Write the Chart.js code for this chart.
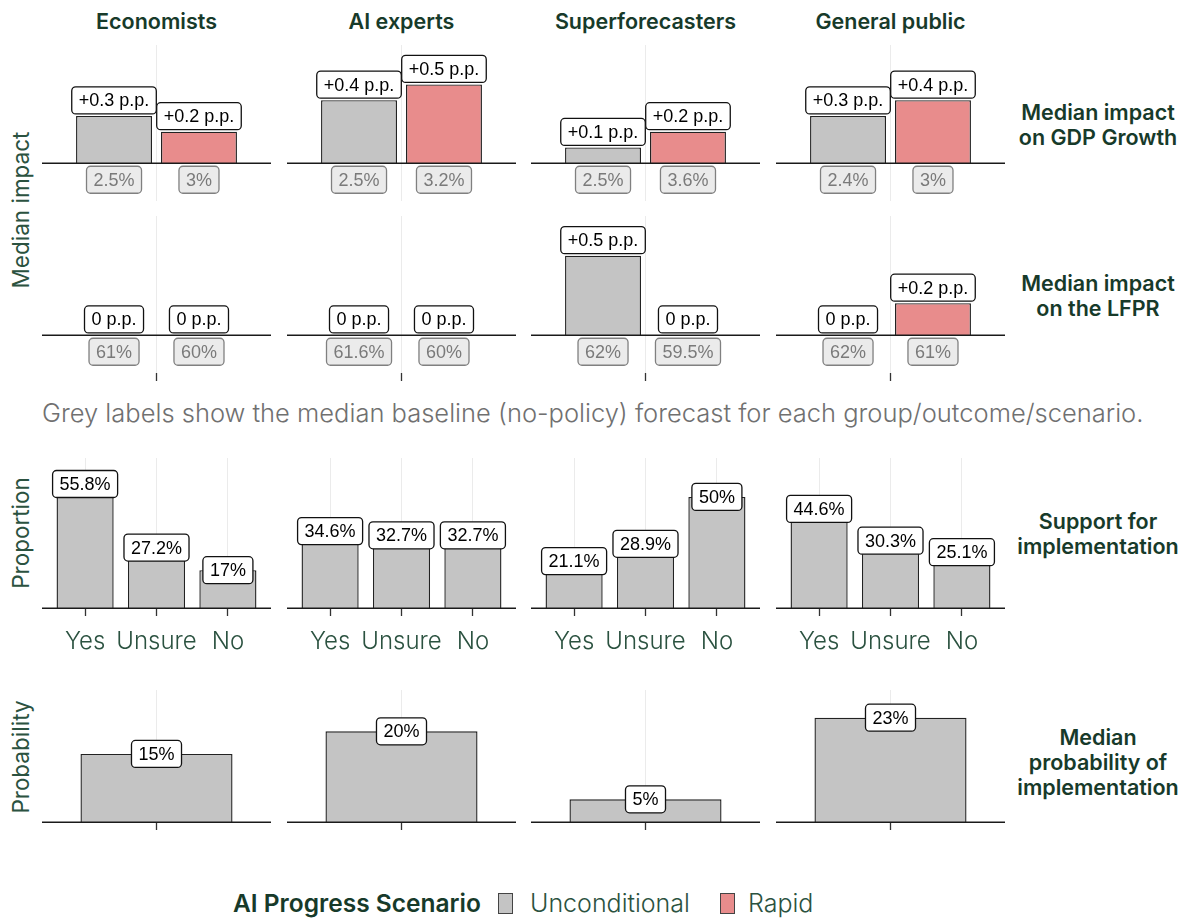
<!DOCTYPE html>
<html>
<head>
<meta charset="utf-8">
<script src="https://cdn.jsdelivr.net/npm/chart.js@4"></script>
<style>
  body { margin: 0; background: #fff; width: 1190px; height: 920px; position: relative; overflow: hidden; font-family: Inter, "Noto Sans", sans-serif; }
  canvas { position: absolute; }
  .t { position: absolute; white-space: nowrap; }
  .head { font-weight: 600; font-size: 21.5px; color: #173a2a; transform: translate(-50%, -50%); }
  .rowt { font-weight: 600; font-size: 21.5px; color: #173a2a; line-height: 25px; text-align: center; transform: translate(-50%, -50%); }
  .ytitle { font-size: 22.5px; color: #2b5240; transform: translate(-50%, -50%) rotate(-90deg); }
  .caption { font-size: 25.5px; color: #707070; font-weight: 300; transform: translateY(-50%); }
  .legend { font-size: 25px; color: #2b5240; font-weight: 300; transform: translateY(-50%); }
  .legtitle { font-weight: 600; font-size: 24.5px; color: #173a2a; transform: translateY(-50%); }
  .key { position: absolute; width: 15px; height: 21px; border: 1.5px solid #444; box-sizing: border-box; }
</style>
</head>
<body>
<script>
// groups (facet columns)
const groups = ['Economists', 'AI experts', 'Superforecasters', 'General public'];

// median impact on GDP growth (p.p.)
const gdpUncond = [0.3, 0.4, 0.1, 0.3];
const gdpRapid = [0.2, 0.5, 0.2, 0.4];
// baseline (no-policy) GDP growth forecast, %
const gdpBaseUncond = [2.5, 2.5, 2.5, 2.4];
const gdpBaseRapid = [3, 3.2, 3.6, 3];

// median impact on labour force participation rate (p.p.)
const lfprUncond = [0, 0, 0.5, 0];
const lfprRapid = [0, 0, 0, 0.2];
const lfprBaseUncond = [61, 61.6, 62, 62];
const lfprBaseRapid = [60, 60, 59.5, 61];

// support for implementation, %
const supportCats = ['Yes', 'Unsure', 'No'];
const supportEcon = [55.8, 27.2, 17];
const supportAI = [34.6, 32.7, 32.7];
const supportSuper = [21.1, 28.9, 50];
const supportPublic = [44.6, 30.3, 25.1];
const support = [supportEcon, supportAI, supportSuper, supportPublic];

// median probability of implementation, %
const probability = [15, 20, 5, 23];

const GREY = '#c4c4c4';
const PINK = '#e88c8c';
const EDGE = '#222222';
const GRID = '#ebebeb';

const pp = v => (v > 0 ? '+' + v : '' + v) + ' p.p.';
const pct = v => v + '%';

// zero line + label boxes drawn on top of the bars
const boxLabels = {
  id: 'boxLabels',
  afterDatasetsDraw(chart, args, opts) {
    const ctx = chart.ctx;
    const y0 = Math.round(chart.scales.y.getPixelForValue(0)) + 0.25;
    ctx.save();
    ctx.strokeStyle = '#1a1a1a';
    ctx.lineWidth = 1.5;
    ctx.beginPath();
    ctx.moveTo(0, y0);
    ctx.lineTo(chart.width, y0);
    ctx.stroke();

    ctx.font = '18px "Liberation Sans", Arial, sans-serif';
    ctx.textAlign = 'center';
    ctx.textBaseline = 'middle';
    const H = 27;
    chart.data.datasets.forEach((ds, di) => {
      const meta = chart.getDatasetMeta(di);
      meta.data.forEach((bar, i) => {
        if (ds.tags) {
          const txt = ds.tags[i];
          const w = ctx.measureText(txt).width + 14;
          const cy = opts.mode === 'above' ? bar.y - 2 - H / 2 : bar.y;
          box(ctx, bar.x - w / 2, cy - H / 2, w, H, '#ffffff', '#111111');
          ctx.fillStyle = '#000';
          ctx.fillText(txt, bar.x, cy + 1);
        }
        if (ds.baseTags) {
          const txt = ds.baseTags[i];
          const w = ctx.measureText(txt).width + 14;
          const cy = y0 + 3 + H / 2;
          box(ctx, bar.x - w / 2, cy - H / 2, w, H, '#ebebeb', '#808080');
          ctx.fillStyle = '#7a7a7a';
          ctx.fillText(txt, bar.x, cy + 1);
        }
      });
    });
    ctx.restore();
  }
};

function box(ctx, x, y, w, h, fill, stroke) {
  const r = 4;
  ctx.beginPath();
  ctx.moveTo(x + r, y);
  ctx.arcTo(x + w, y, x + w, y + h, r);
  ctx.arcTo(x + w, y + h, x, y + h, r);
  ctx.arcTo(x, y + h, x, y, r);
  ctx.arcTo(x, y, x + w, y, r);
  ctx.closePath();
  ctx.fillStyle = fill;
  ctx.fill();
  ctx.lineWidth = 1.3;
  ctx.strokeStyle = stroke;
  ctx.stroke();
}

const colLeft = [42, 287, 531, 776];
const W = 229;

function addText(cls, txt, x, y) {
  const d = document.createElement('div');
  d.className = 't ' + cls;
  d.innerHTML = txt;
  d.style.left = x + 'px';
  d.style.top = y + 'px';
  document.body.appendChild(d);
  return d;
}

function panel(left, top, chartH, axisH, data, scales, mode, padX) {
  const c = document.createElement('canvas');
  c.width = W;
  c.height = chartH + axisH;
  c.style.left = left + 'px';
  c.style.top = top + 'px';
  document.body.appendChild(c);
  new Chart(c, {
    type: 'bar',
    data: data,
    options: {
      responsive: false,
      animation: false,
      devicePixelRatio: 1,
      layout: { padding: { left: padX || 0, right: padX || 0, top: 0, bottom: 0 } },
      scales: scales,
      plugins: { legend: { display: false }, tooltip: { enabled: false }, boxLabels: { mode: mode } }
    },
    plugins: [boxLabels]
  });
}

function catX(ticks, axisH, labels) {
  return {
    type: 'category',
    offset: true,
    grid: { offset: false, color: GRID, lineWidth: 1, drawTicks: ticks, tickLength: 8, tickColor: '#333', tickWidth: 1.3 },
    border: { display: false },
    ticks: labels
      ? { font: { family: 'Inter', size: 24, weight: 300 }, color: '#2b5240', padding: 11, maxRotation: 0, autoSkip: false }
      : { display: false },
    afterFit(s) { s.height = axisH; }
  };
}

function pair(k, a, b, baseA, baseB) {
  const common = { borderColor: EDGE, borderWidth: 1.4, categoryPercentage: 0.742, barPercentage: 0.894 };
  return [
    Object.assign({ data: [a[k]], backgroundColor: GREY, tags: [pp(a[k])], baseTags: [pct(baseA[k])] }, common),
    Object.assign({ data: [b[k]], backgroundColor: PINK, tags: [pp(b[k])], baseTags: [pct(baseB[k])] }, common)
  ];
}

groups.forEach((g, k) => {
  const left = colLeft[k];

  // row 1: GDP growth
  panel(left, 45, 156, 0, { labels: [g], datasets: pair(k, gdpUncond, gdpRapid, gdpBaseUncond, gdpBaseRapid) },
    { x: catX(false, 0), y: { display: false, min: -0.24, max: 0.75 } }, 'above');

  // row 2: LFPR
  panel(left, 216, 157, 10, { labels: [g], datasets: pair(k, lfprUncond, lfprRapid, lfprBaseUncond, lfprBaseRapid) },
    { x: catX(true, 10), y: { display: false, min: -0.24, max: 0.75 } }, 'above');

  // row 3: support for implementation
  panel(left, 458, 150, 54, {
    labels: supportCats,
    datasets: [
      { data: support[k], backgroundColor: GREY, borderColor: EDGE, borderWidth: 1.4,
        categoryPercentage: 1, barPercentage: 0.8, tags: support[k].map(pct) }
    ]
  }, { x: catX(true, 54, true), y: { display: false, min: 0, max: 67.5 } }, 'center', 7.4);

  // row 4: probability of implementation
  panel(left, 690, 132, 10, {
    labels: [g],
    datasets: [
      { data: [probability[k]], backgroundColor: GREY, borderColor: EDGE, borderWidth: 1.4,
        categoryPercentage: 1, barPercentage: 0.664, tags: [pct(probability[k])] }
    ]
  }, { x: catX(true, 10), y: { display: false, min: 0, max: 29.1 } }, 'center');

  addText('head', g, left + W / 2, 21);
});

addText('rowt', 'Median impact<br>on GDP Growth', 1098, 125);
addText('rowt', 'Median impact<br>on the LFPR', 1098, 296);
addText('rowt', 'Support for<br>implementation', 1098, 534);
addText('rowt', 'Median<br>probability of<br>implementation', 1098, 762);

addText('ytitle', 'Median impact', 20, 210);
addText('ytitle', 'Proportion', 20, 533);
addText('ytitle', 'Probability', 20, 757);

addText('caption', 'Grey labels show the median baseline (no-policy) forecast for each group/outcome/scenario.', 42, 412);

// legend
addText('legtitle', 'AI Progress Scenario', 233, 903);
const k1 = document.createElement('div'); k1.className = 'key';
k1.style.cssText = 'left:498px;top:893px;background:' + GREY; document.body.appendChild(k1);
addText('legend', 'Unconditional', 530, 903);
const k2 = document.createElement('div'); k2.className = 'key';
k2.style.cssText = 'left:720px;top:893px;background:' + PINK; document.body.appendChild(k2);
addText('legend', 'Rapid', 748, 903);
</script>
</body>
</html>
